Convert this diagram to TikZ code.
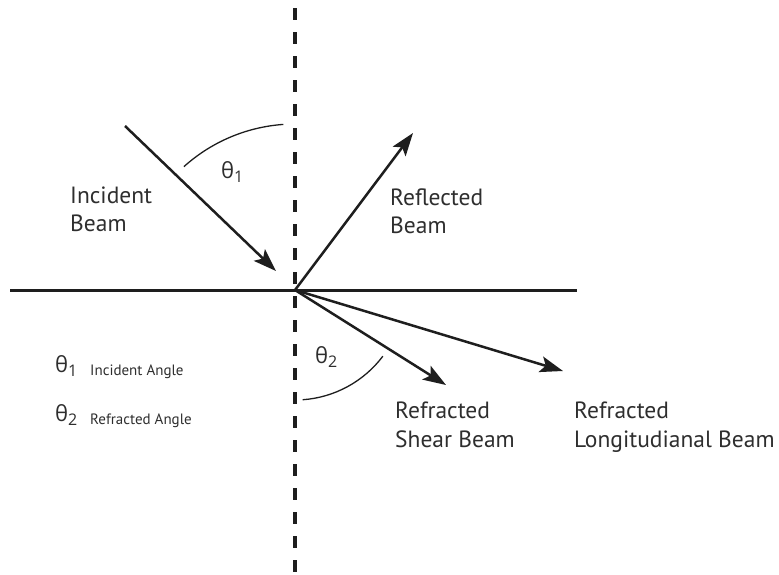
\documentclass[tikz,border=0pt]{standalone}
\usepackage{fontspec}
\setmainfont{PT Sans}
\newfontfamily\grk{Open Sans}
\usetikzlibrary{arrows.meta}
\definecolor{ink}{HTML}{1E1E1E}
\definecolor{txt}{HTML}{2E2E2E}
\begin{document}
\begin{tikzpicture}[x=1pt,y=-1pt,
  beam/.style={line width=2.5pt,draw=ink,-{Stealth[length=23pt,width=16pt,inset=5pt]}},
  anglearc/.style={line width=1.3pt,draw=ink},
  lbl/.style={anchor=base west,inner sep=0pt,font=\fontsize{23.5}{25}\selectfont,text=txt},
  small/.style={anchor=base west,inner sep=0pt,font=\fontsize{15}{16}\selectfont,text=txt},
  greek/.style={anchor=base west,inner sep=0pt,font=\grk\fontsize{22}{24}\selectfont,text=txt}]
\useasboundingbox (0,0) rectangle (779,574);
\coordinate (O) at (295,290);
\coordinate (top) at (295,8);
\coordinate (bot) at (295,574);
\coordinate (L) at (10,290);
\coordinate (R) at (577,290);
\draw[line width=3.5pt,draw=ink,dash pattern=on 12pt off 12pt] (top) -- (bot);
\draw[line width=3pt,draw=ink] (L) -- (R);
\coordinate (incS) at (125,126);
\coordinate (incE) at (276,271);
\draw[beam] (incS) -- (incE);
\coordinate (refl) at (413,133);
\draw[beam] (O) -- (refl);
\coordinate (shear) at (446,385);
\draw[beam] (O) -- (shear);
\coordinate (long) at (563,371);
\draw[beam] (O) -- (long);
\draw[anglearc] (O) ++(-94:166) arc[start angle=-94,end angle=-132,radius=166];
\draw[anglearc] (O) ++(86:110) arc[start angle=86,end angle=37,radius=110];
\node[greek] (t1) at (221,178) {θ\raisebox{-4pt}{\fontsize{16}{17}\selectfont 1}};
\node[greek] (t2) at (315,363) {θ\raisebox{-4pt}{\fontsize{16}{17}\selectfont 2}};
\node[lbl] (inc1) at (70,203) {Incident};
\node[lbl] (inc2) at (70,231) {Beam};
\node[lbl] (ref1) at (390,205) {Reflected};
\node[lbl] (ref2) at (390,233) {Beam};
\node[lbl] (sh1) at (395,418) {Refracted};
\node[lbl] (sh2) at (395,447) {Shear Beam};
\node[lbl] (lo1) at (574,418) {Refracted};
\node[lbl] (lo2) at (574,447) {Longitudianal Beam};
\node[greek] (g1) at (55,372) {θ\raisebox{-4pt}{\fontsize{16}{17}\selectfont 1}};
\node[small] (a1) at (90,375) {Incident Angle};
\node[greek] (g2) at (55,421) {θ\raisebox{-4pt}{\fontsize{16}{17}\selectfont 2}};
\node[small] (a2) at (90,424) {Refracted Angle};
\end{tikzpicture}
\end{document}
